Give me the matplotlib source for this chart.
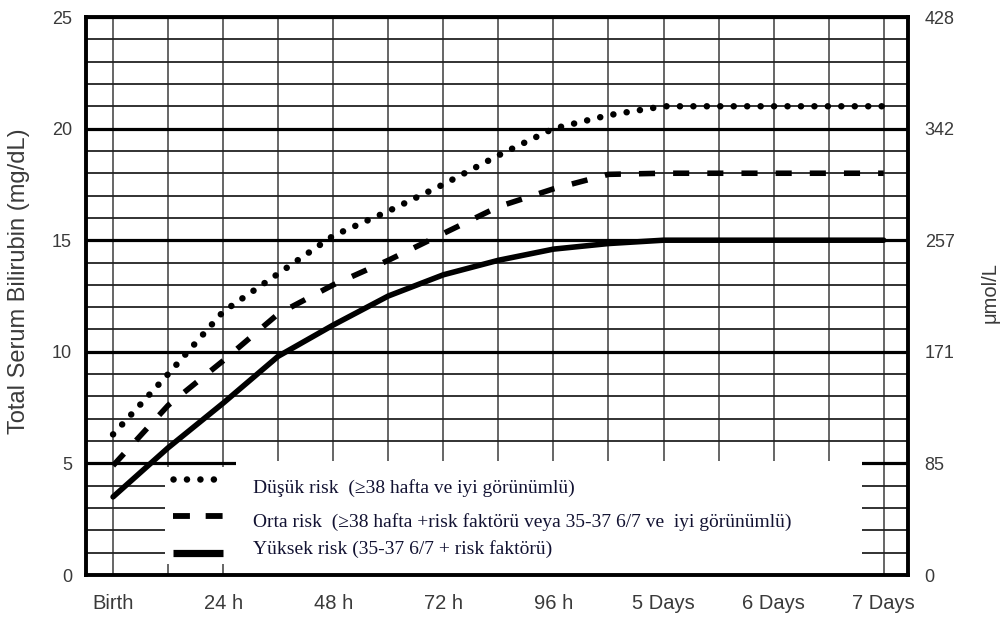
import numpy as np
import matplotlib as mpl
mpl.use('Agg')
import matplotlib.pyplot as plt
from matplotlib.patches import Rectangle

################################################################################

# hours after birth and total serum bilirubin (mg/dL) per risk group
hours = [0, 12, 24, 36, 48, 60, 72, 84, 96, 108, 120, 132, 144, 156, 168]
low_risk = [6.3, 9.0, 11.8, 13.5, 15.2, 16.3, 17.5, 18.8, 20.0, 20.6, 21.0, 21.0, 21.0, 21.0, 21.0]
medium_risk = [4.9, 7.6, 9.6, 11.7, 13.0, 14.1, 15.3, 16.5, 17.3, 17.95, 18.0, 18.0, 18.0, 18.0, 18.0]
high_risk = [3.5, 5.7, 7.7, 9.8, 11.2, 12.5, 13.45, 14.1, 14.6, 14.85, 15.0, 15.0, 15.0, 15.0, 15.0]

x_ticks = [0, 24, 48, 72, 96, 120, 144, 168]
x_labels = ["Birth", "24 h", "48 h", "72 h", "96 h", "5 Days", "6 Days", "7 Days"]
y_ticks = [0, 5, 10, 15, 20, 25]
umol_labels = ["0", "85", "171", "257", "342", "428"]

legend_labels = [
    "Düşük risk  (≥38 hafta ve iyi görünümlü)",
    "Orta risk  (≥38 hafta +risk faktörü veya 35-37 6/7 ve  iyi görünümlü)",
    "Yüksek risk (35-37 6/7 + risk faktörü)",
]

################################################################################

sans = ['Liberation Sans', 'DejaVu Sans']
serif = ['Liberation Serif', 'DejaVu Serif']
tick_color = '#3a3a3a'

fig = plt.figure(figsize=(10.01, 6.21), dpi=100)
ax = fig.add_axes([86 / 1001, 46 / 621, 822 / 1001, 558 / 621])

ax.set_xlim(-5.9, 173.3)
ax.set_ylim(0, 25)

# grid: thin every 12 h / 1 mg/dL, heavy every 5 mg/dL
ax.set_xticks(x_ticks)
ax.set_xticklabels(x_labels, family=sans, fontsize=14.5, color=tick_color)
ax.set_xticks(np.arange(12, 169, 24), minor=True)
ax.set_yticks(y_ticks)
ax.set_yticklabels([str(v) for v in y_ticks], family=sans, fontsize=13, color=tick_color)
ax.set_yticks(np.arange(0, 26, 1), minor=True)
ax.set_axisbelow(True)
ax.xaxis.grid(True, which='both', color='#3c3c3c', lw=1.1)
ax.yaxis.grid(True, which='minor', color='#222222', lw=1.3)
ax.yaxis.grid(True, which='major', color='black', lw=2.3)
ax.tick_params(which='both', length=0)
ax.tick_params(axis='x', pad=14)
ax.tick_params(axis='y', pad=10)
for s in ax.spines.values():
    s.set_linewidth(2.8)

fig.text(19 / 1001, 1 - 281 / 621, "Total Serum Bilirubin (mg/dL)", family=sans,
         fontsize=17, color=tick_color, rotation=90, ha='center', va='center')

# right axis in umol/L
ax2 = ax.twinx()
ax2.set_ylim(0, 25)
ax2.set_yticks(y_ticks)
ax2.set_yticklabels(umol_labels, family=sans, fontsize=13, color=tick_color)
ax2.tick_params(length=0, pad=12)
for s in ax2.spines.values():
    s.set_visible(False)
fig.text(990 / 1001, 1 - 293 / 621, "μmol/L", family=sans, fontsize=14.5,
         color=tick_color, rotation=90, ha='center', va='center')

# white legend area
ax.add_patch(Rectangle((11.3, 0.5), 15.5, 4.35, facecolor='white',
                       edgecolor='none', zorder=1))
ax.add_patch(Rectangle((26.8, 0.0), 136.5, 5.12, facecolor='white',
                       edgecolor='none', zorder=1))

dot_style = dict(color='black', lw=4.7, linestyle=(0, (0.01, 2.05)),
                 dash_capstyle='round', zorder=3)
dash_style = dict(color='black', lw=4.0, linestyle=(0, (2.9, 3.25)),
                  dash_capstyle='butt', zorder=3)
solid_style = dict(color='black', lw=4.0, solid_capstyle='round', zorder=3)

ax.plot(hours, low_risk, **dot_style)
ax.plot(hours, medium_risk, **dash_style)
ax.plot(hours, high_risk, **solid_style)

# legend samples and texts
ax.plot([13.1, 22.0], [4.32, 4.32], **dot_style)
ax.plot([13.1, 24.0], [2.63, 2.63], color='black', lw=4.2,
        linestyle=(0, (2.9, 2.7)), dash_capstyle='butt', zorder=3)
ax.plot([13.1, 24.0], [0.98, 0.98], color='black', lw=5.2,
        solid_capstyle='butt', zorder=3)

text_y = [3.88, 2.36, 1.16]
for lab, ty in zip(legend_labels, text_y):
    ax.text(30.5, ty, lab, family=serif, fontsize=14, color='#121232',
            va='center', ha='left', zorder=4)

fig.savefig("out.png", dpi=100)
